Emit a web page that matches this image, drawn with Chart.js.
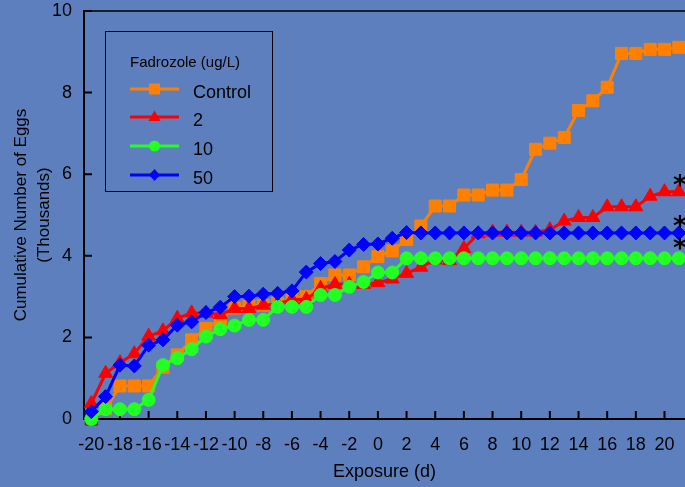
<!DOCTYPE html>
<html>
<head>
<meta charset="utf-8">
<script src="https://cdn.jsdelivr.net/npm/chart.js@4.4.1/dist/chart.umd.min.js"></script>
<style>
  html, body { margin: 0; padding: 0; background: #5d7fbd; }
  #wrap { position: relative; width: 685px; height: 487px; overflow: hidden; background: #5d7fbd; }
  #chart { position: absolute; left: 0; top: 0; }
  .lg { position: absolute; font-family: "Liberation Sans", Arial, sans-serif; color: #000; line-height: 1; white-space: nowrap; }
  #legendBox { position: absolute; left: 105px; top: 31px; width: 166px; height: 159px; border: 1.5px solid #000; }
</style>
</head>
<body>
<div id="wrap">
  <canvas id="chart" width="685" height="487"></canvas>
  <div id="legendBox"></div>
</div>
<script>
// exposure day, one reading per day
const days = [-20, -19, -18, -17, -16, -15, -14, -13, -12, -11, -10, -9, -8, -7, -6, -5, -4, -3, -2, -1,
  0, 1, 2, 3, 4, 5, 6, 7, 8, 9, 10, 11, 12, 13, 14, 15, 16, 17, 18, 19, 20, 21];

const xTicks = [-20, -18, -16, -14, -12, -10, -8, -6, -4, -2, 0, 2, 4, 6, 8, 10, 12, 14, 16, 18, 20];
const yTicks = [0, 2, 4, 6, 8, 10];

const seriesNames = ['Control', '2', '10', '50'];
const legendTitle = 'Fadrozole (ug/L)';
const significant = [false, true, true, true];

// cumulative eggs (thousands)
const control = [0, 0.25, 0.81, 0.81, 0.81, 1.27, 1.57, 1.94, 2.22, 2.43, 2.72, 2.77, 2.79, 2.84, 2.96, 3.0,
  3.32, 3.53, 3.53, 3.73, 3.98, 4.12, 4.4, 4.73, 5.22, 5.22, 5.49, 5.49, 5.61, 5.61, 5.87, 6.61,
  6.76, 6.9, 7.56, 7.8, 8.13, 8.96, 8.96, 9.06, 9.06, 9.11];
const fad2 = [0.38, 1.12, 1.38, 1.6, 2.03, 2.16, 2.47, 2.6, 2.59, 2.56, 2.71, 2.71, 2.79, 2.82, 2.93, 2.93,
  3.2, 3.3, 3.3, 3.3, 3.34, 3.43, 3.57, 3.72, 3.9, 3.88, 4.18, 4.54, 4.58, 4.58, 4.58, 4.58,
  4.64, 4.85, 4.94, 4.94, 5.2, 5.2, 5.2, 5.46, 5.57, 5.57];
const fad10 = [0, 0.24, 0.24, 0.24, 0.47, 1.32, 1.49, 1.71, 2.02, 2.2, 2.29, 2.43, 2.43, 2.75, 2.75, 2.75,
  3.04, 3.04, 3.24, 3.36, 3.59, 3.59, 3.94, 3.94, 3.94, 3.94, 3.94, 3.94, 3.94, 3.94, 3.94, 3.94,
  3.94, 3.94, 3.94, 3.94, 3.94, 3.94, 3.94, 3.94, 3.94, 3.94];
const fad50 = [0.18, 0.55, 1.32, 1.3, 1.81, 1.94, 2.3, 2.38, 2.61, 2.74, 3.0, 3.01, 3.06, 3.08, 3.14, 3.6,
  3.81, 3.86, 4.14, 4.28, 4.29, 4.43, 4.57, 4.56, 4.56, 4.56, 4.56, 4.56, 4.56, 4.56, 4.56, 4.56,
  4.56, 4.56, 4.56, 4.56, 4.56, 4.56, 4.56, 4.56, 4.56, 4.56];

const colors = ['#ff8000', '#ff0000', '#22ff22', '#0000ff'];
const shapes = ['rect', 'triangle', 'circle', 'rectRot'];
const radii = [8.5, 8, 6.5, 7];
const starLift = [0, 11, 14.5, 11.5];   // px above the last point
const values = [control, fad2, fad10, fad50];

const font = '"Liberation Sans", Arial, sans-serif';
Chart.defaults.font.family = font;
Chart.defaults.color = '#000';

function noPad(s) {
  s.paddingTop = 0;
  s.paddingBottom = 0;
  s.paddingLeft = 0;
  s.paddingRight = 0;
}

const frameAndTicks = {
  id: 'frameAndTicks',
  beforeDatasetsDraw(chart) {
    const { ctx, chartArea: a, scales: { x, y } } = chart;
    ctx.save();
    ctx.strokeStyle = '#000';
    ctx.lineWidth = 2;
    ctx.beginPath();
    xTicks.forEach(v => {
      const px = x.getPixelForValue(v);
      ctx.moveTo(px, a.bottom);
      ctx.lineTo(px, a.bottom - 8);
    });
    yTicks.forEach(v => {
      const py = y.getPixelForValue(v);
      ctx.moveTo(a.left, py);
      ctx.lineTo(a.left + 8, py);
    });
    ctx.stroke();
    ctx.lineWidth = 1.5;
    ctx.beginPath();
    ctx.moveTo(a.left, a.top);
    ctx.lineTo(a.right, a.top);
    ctx.stroke();
    ctx.restore();
  }
};

const stars = {
  id: 'stars',
  afterDatasetsDraw(chart) {
    const ctx = chart.ctx;
    ctx.save();
    ctx.font = 'bold 100px "DejaVu Sans"';
    const m0 = ctx.measureText('*');
    const size = 100 * 12.5 / (m0.actualBoundingBoxAscent + m0.actualBoundingBoxDescent);
    ctx.font = 'bold ' + size + 'px "DejaVu Sans"';
    const m = ctx.measureText('*');
    ctx.fillStyle = '#000';
    ctx.textAlign = 'center';
    ctx.textBaseline = 'alphabetic';
    chart.data.datasets.forEach((ds, i) => {
      if (!significant[i]) return;
      const pts = chart.getDatasetMeta(i).data;
      const p = pts[pts.length - 1];
      const cy = p.y - starLift[i];
      ctx.fillText('*', p.x + 1, cy + (m.actualBoundingBoxAscent - m.actualBoundingBoxDescent) / 2);
    });
    ctx.restore();
  }
};

const datasets = seriesNames.map((name, i) => ({
  label: name,
  data: days.map((d, j) => ({ x: d, y: values[i][j] })),
  borderColor: colors[i],
  backgroundColor: colors[i],
  borderWidth: 3,
  pointStyle: shapes[i],
  pointRadius: radii[i],
  pointBackgroundColor: colors[i],
  pointBorderColor: i === 0 ? (c => c.dataIndex === 0 ? '#222' : colors[0]) : colors[i],
  pointBorderWidth: 1,
  tension: 0,
  clip: false,
  order: 4 - i
}));

new Chart(document.getElementById('chart'), {
  type: 'line',
  data: { datasets },
  options: {
    responsive: false,
    animation: false,
    layout: { autoPadding: false, padding: { top: 11, right: 0, left: 0, bottom: 0 } },
    plugins: { legend: { display: false }, tooltip: { enabled: false } },
    scales: {
      x: {
        type: 'linear',
        min: -20.51,
        max: 21.43,
        grid: { display: false, drawTicks: false },
        border: { display: true, color: '#000', width: 2 },
        afterBuildTicks: s => { s.ticks = xTicks.map(v => ({ value: v })); },
        afterFit: s => { s.height = 68; noPad(s); },
        ticks: {
          autoSkip: false, maxRotation: 0, minRotation: 0, padding: 15,
          font: { size: 18 }, color: '#000',
          callback: v => String(v)
        },
        title: { display: true, text: 'Exposure (d)', font: { size: 18, lineHeight: 1.2 }, padding: { top: 0, bottom: 4 }, color: '#000' }
      },
      y: {
        min: 0,
        max: 10,
        grid: { display: false, drawTicks: false },
        border: { display: true, color: '#000', width: 2 },
        afterBuildTicks: s => { s.ticks = yTicks.map(v => ({ value: v })); },
        afterFit: s => { s.width = 84; noPad(s); },
        ticks: { padding: 12, font: { size: 18 }, color: '#000', callback: v => String(v) },
        title: {
          display: true,
          text: ['Cumulative Number of Eggs', '(Thousands)'],
          font: { size: 17, lineHeight: 1.35 },
          padding: { top: 10, bottom: 0 },
          color: '#000'
        }
      }
    }
  },
  plugins: [frameAndTicks, stars]
});

// legend inside the plot, built from the same series lists
const wrap = document.getElementById('wrap');
function addText(text, left, centerY, size) {
  const el = document.createElement('div');
  el.className = 'lg';
  el.textContent = text;
  el.style.left = left + 'px';
  el.style.top = (centerY - size / 2) + 'px';
  el.style.fontSize = size + 'px';
  wrap.appendChild(el);
}
function markerSvg(shape, color) {
  const c = 24.5, m = 10;
  let mk;
  if (shape === 'rect') mk = `<rect x="${c - 5.5}" y="${m - 5.5}" width="11" height="11" fill="${color}"/>`;
  else if (shape === 'triangle') mk = `<polygon points="${c},${m - 6.5} ${c + 6},${m + 4} ${c - 6},${m + 4}" fill="${color}"/>`;
  else if (shape === 'circle') mk = `<circle cx="${c}" cy="${m}" r="5.5" fill="${color}"/>`;
  else mk = `<polygon points="${c},${m - 6} ${c + 5.5},${m} ${c},${m + 6} ${c - 5.5},${m}" fill="${color}"/>`;
  return `<svg width="49" height="20" xmlns="http://www.w3.org/2000/svg"><line x1="0" y1="${m}" x2="49" y2="${m}" stroke="${color}" stroke-width="3"/>${mk}</svg>`;
}
addText(legendTitle, 130, 61.7, 15);
const swatchY = [88.5, 117, 146, 175];
const labelY = [91.5, 120, 148.5, 177.5];
seriesNames.forEach((name, i) => {
  const sw = document.createElement('div');
  sw.style.position = 'absolute';
  sw.style.left = '130px';
  sw.style.top = (swatchY[i] - 10) + 'px';
  sw.style.height = '20px';
  sw.innerHTML = markerSvg(shapes[i], colors[i]);
  wrap.appendChild(sw);
  addText(name, 193, labelY[i], 18);
});
</script>
</body>
</html>
